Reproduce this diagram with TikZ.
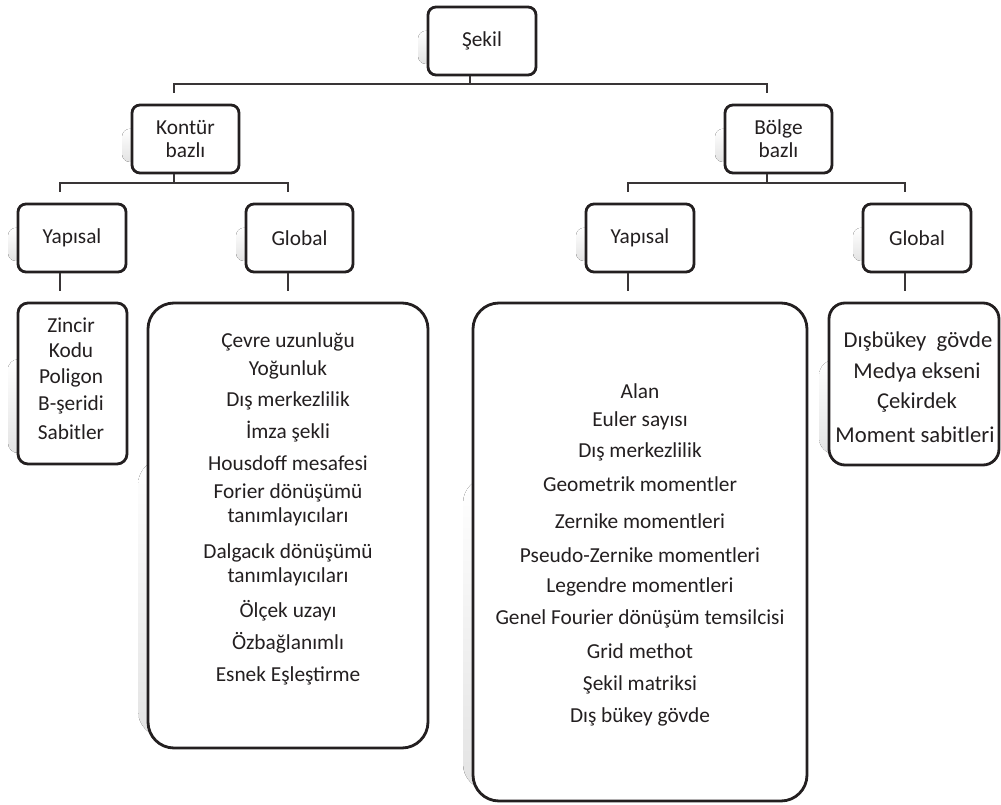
\documentclass[tikz,border=0pt]{standalone}
\usepackage{fontspec}
\setmainfont{Carlito}
\usetikzlibrary{calc}
\definecolor{ink}{HTML}{231F20}
\tikzset{
  frame/.style={draw=ink, line width=2.1pt, fill=white, inner sep=0pt, align=center,
    text=ink, font=\fontsize{16}{17.3}\selectfont},
  conn/.style={draw=ink!90, line width=1pt},
  lbl/.style={text=ink, font=\fontsize{16}{17.3}\selectfont, inner sep=0pt, align=center},
  biglbl/.style={lbl, font=\fontsize{17}{18.4}\selectfont},
}
% #1 name, #2..#5 = left, top, right, bottom (px), #6 corner radius (px), #7 text
\newcommand\shadedbox[7]{%
  \fill[top color=white, bottom color=black!11, rounded corners={#6*0.75pt}]
    (#2-10, {#3+0.35*(#5-#3)}) rectangle (#4-10, #5-11);
  \node[frame, rounded corners={#6*0.75pt},
    minimum width={(#4-#2)*0.75pt}, minimum height={(#5-#3)*0.75pt}]
    (#1) at ({(#2+#4)/2},{(#3+#5)/2}) {#7};
}
\begin{document}
\begin{tikzpicture}[x=0.75pt, y=-0.75pt]
\useasboundingbox (0,0) rectangle (1001,805);

% boxes of the tree
\shadedbox{sekil}{428}{7}{536}{75}{8}{Şekil}
\shadedbox{kontur}{132}{105}{239}{173}{8}{Kontür\\bazlı}
\shadedbox{bolge}{725}{105}{832}{173}{8}{Bölge\\bazlı}
\shadedbox{yapL}{18}{204}{126}{272}{8}{Yapısal}
\shadedbox{globL}{246}{204}{353}{272}{8}{Global}
\shadedbox{yapR}{586}{204}{694}{272}{8}{Yapısal}
\shadedbox{globR}{863}{204}{971}{272}{8}{Global}

% list boxes
\shadedbox{zincir}{18}{303}{127}{464}{10}{}
\shadedbox{listL}{148}{303}{428}{748}{26}{}
\shadedbox{listR}{473}{303}{807}{801}{26}{}
\shadedbox{listG}{829}{303}{999}{465}{16}{}

% junction points
\coordinate (t0) at (470,84);
\coordinate (kA) at (174,93);
\coordinate (bA) at (767,93);
\coordinate (k1) at (174,183);
\coordinate (yA) at (60,192);
\coordinate (gA) at (288,192);
\coordinate (b1) at (767,183);
\coordinate (yB) at (628,192);
\coordinate (gB) at (905,192);

% connectors
\draw[conn] (sekil.south -| t0) -- (t0);
\draw[conn] (kA) |- (t0) -| (bA);
\draw[conn] (kontur.south -| k1) -- (k1);
\draw[conn] (yA) |- (k1) -| (gA);
\draw[conn] (bolge.south -| b1) -- (b1);
\draw[conn] (yB) |- (b1) -| (gB);
\draw[conn] (yapL.south -| yA) -- ++(0,18);
\draw[conn] (globL.south -| gA) -- ++(0,18);
\draw[conn] (yapR.south -| yB) -- ++(0,18);
\draw[conn] (globR.south -| gB) -- ++(0,18);

% contents of the list boxes
\node[lbl] (z1) at (71,325) {Zincir};
\node[lbl] (z2) at (71,350) {Kodu};
\node[lbl] (z3) at (71,378) {Poligon};
\node[lbl] (z4) at (71,405) {B-şeridi};
\node[lbl] (z5) at (71,432) {Sabitler};

\node[lbl] (l1) at (288,342) {Çevre uzunluğu};
\node[lbl] (l2) at (288,370) {Yoğunluk};
\node[lbl] (l3) at (288,401) {Dış merkezlilik};
\node[lbl] (l4) at (288,432) {İmza şekli};
\node[lbl] (l5) at (288,463) {Housdoff mesafesi};
\node[lbl] (l6) at (288,493) {Forier dönüşümü};
\node[lbl] (l7) at (288,517) {tanımlayıcıları};
\node[lbl] (l8) at (288,553) {Dalgacık dönüşümü};
\node[lbl] (l9) at (288,577) {tanımlayıcıları};
\node[lbl] (l10) at (288,611) {Ölçek uzayı};
\node[lbl] (l11) at (288,643) {Özbağlanımlı};
\node[lbl] (l12) at (288,676) {Esnek Eşleştirme};

\node[lbl] (r1) at (640,391) {Alan};
\node[lbl] (r2) at (640,421) {Euler sayısı};
\node[lbl] (r3) at (640,452) {Dış merkezlilik};
\node[lbl] (r4) at (640,484) {Geometrik momentler};
\node[lbl] (r5) at (640,521) {Zernike momentleri};
\node[lbl] (r6) at (640,555) {Pseudo-Zernike momentleri};
\node[lbl] (r7) at (640,587) {Legendre momentleri};
\node[lbl] (r8) at (640,619) {Genel Fourier dönüşüm temsilcisi};
\node[lbl] (r9) at (640,651) {Grid methot};
\node[lbl] (r10) at (640,685) {Şekil matriksi};
\node[lbl] (r11) at (640,717) {Dış bükey gövde};

\node[biglbl] (g1) at (918,342) {Dışbükey\ \ gövde};
\node[biglbl] (g2) at (917,372) {Medya ekseni};
\node[biglbl] (g3) at (917,403) {Çekirdek};
\node[biglbl] (g4) at (915,435) {Moment sabitleri};
\end{tikzpicture}
\end{document}
